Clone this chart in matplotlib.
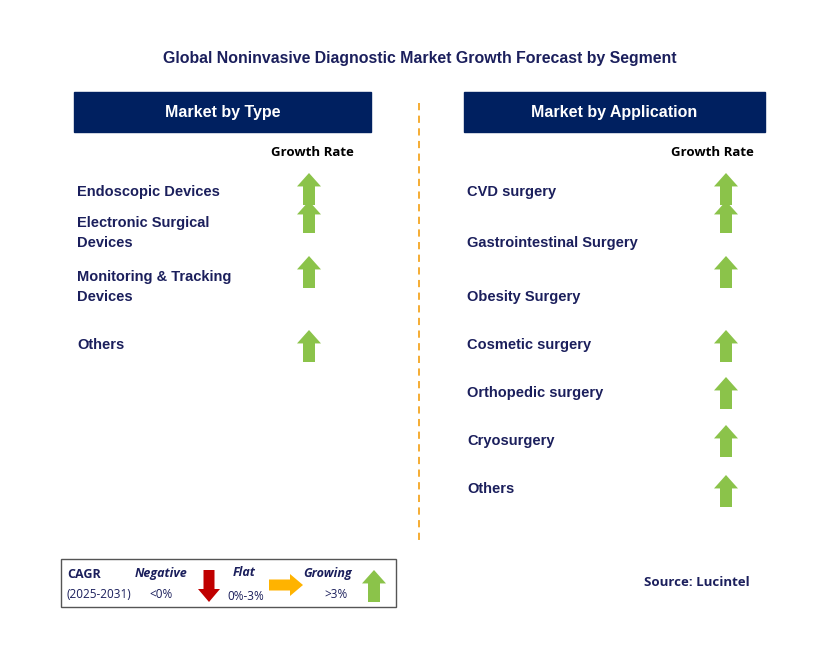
import matplotlib.pyplot as plt
from matplotlib.patches import Rectangle, FancyArrow

title = "Global Noninvasive Diagnostic Market Growth Forecast by Segment"
type_labels = ["Endoscopic Devices", "Electronic Surgical\nDevices",
               "Monitoring & Tracking\nDevices", "Others"]
type_growth = ["up", "up", "up", "up"]
app_labels = ["CVD surgery", "Gastrointestinal Surgery", "Obesity Surgery",
              "Cosmetic surgery", "Orthopedic surgery", "Cryosurgery", "Others"]
app_growth = ["up"] * 7

# layout (pixels)
type_text_y = [192, 233, 287, 345]
type_arrow_top = [173, 201, 256, 330]
app_text_y = [192, 243, 297, 345, 393, 441, 489]
app_arrow_top = [173, 201, 256, 330, 377, 425, 475]

NAVY = "#002060"
TXT = "#1b1f5c"
GREEN = "#8bc34a"
FONT = "Liberation Sans"

fig = plt.figure(figsize=(8.29, 6.66), dpi=100)
ax = fig.add_axes([0, 0, 1, 1])
ax.set_xlim(0, 829)
ax.set_ylim(666, 0)
ax.axis("off")

ax.text(420, 58, title, ha="center", va="center", fontsize=11.4, fontweight="bold",
        color=TXT, family=FONT)


def up_arrow(x, top, h=32, w=24, color=GREEN):
    ax.add_patch(FancyArrow(x, top + h, 0, -h, width=w * 0.5, head_width=w,
                            head_length=h * 0.42, length_includes_head=True,
                            color=color, lw=0))


def panel(x0, x1, header, labels, ty, atop, arrow_x, gr_x):
    ax.add_patch(Rectangle((x0, 92), x1 - x0, 40, color=NAVY))
    ax.text((x0 + x1) / 2, 113, header, ha="center", va="center", color="white",
            fontsize=11.5, fontweight="bold", family=FONT)
    ax.text(gr_x, 152, "Growth Rate", ha="center", va="center", fontsize=9.5,
            fontweight="bold", color="black", family="Open Sans")
    for lab, y in zip(labels, ty):
        ax.text(x0 + 3, y, lab, ha="left", va="center", fontsize=10.5,
                fontweight="bold", color=TXT, family=FONT, linespacing=1.55)
    for t in atop:
        up_arrow(arrow_x, t)


panel(74, 371, "Market by Type", type_labels, type_text_y, type_arrow_top, 309, 312)
panel(464, 765, "Market by Application", app_labels, app_text_y, app_arrow_top, 726, 712)

ax.plot([419, 419], [103, 545], ls=(0, (4, 3)), color="#f5a623", lw=1.3)

# legend box
ax.add_patch(Rectangle((61, 559), 335, 48, fill=False, ec="#555555", lw=1))
ax.text(67, 575, "CAGR", fontsize=9, fontweight="bold", color=TXT, va="center",
        family="Open Sans")
ax.text(67, 594, "(2025-2031)", fontsize=8.5, color=TXT, va="center", family="Open Sans")
ax.text(161, 573, "Negative", fontsize=9, fontweight="bold", style="italic",
        color=TXT, ha="center", va="center", family="Open Sans")
ax.text(161, 595, "<0%", fontsize=8.5, color=TXT, ha="center", va="center", family="Open Sans")
ax.add_patch(FancyArrow(209, 570, 0, 32, width=11, head_width=22, head_length=13,
                        length_includes_head=True, color="#c00000", lw=0))
ax.text(244, 573, "Flat", fontsize=9, fontweight="bold", style="italic",
        color=TXT, ha="center", va="center", family="Open Sans")
ax.text(246, 596, "0%-3%", fontsize=8.5, color=TXT, ha="center", va="center", family="Open Sans")
ax.add_patch(FancyArrow(269, 585, 34, 0, width=11, head_width=22, head_length=13,
                        length_includes_head=True, color="#ffb300", lw=0))
ax.text(328, 573, "Growing", fontsize=9, fontweight="bold", style="italic",
        color=TXT, ha="center", va="center", family="Open Sans")
ax.text(336, 594, ">3%", fontsize=8.5, color=TXT, ha="center", va="center", family="Open Sans")
up_arrow(374, 570, h=32, w=24)

ax.text(750, 582, "Source: Lucintel", ha="right", va="center", fontsize=9.5,
        fontweight="bold", color=TXT, family="Open Sans")

fig.savefig("out.png", dpi=100, facecolor="white")
